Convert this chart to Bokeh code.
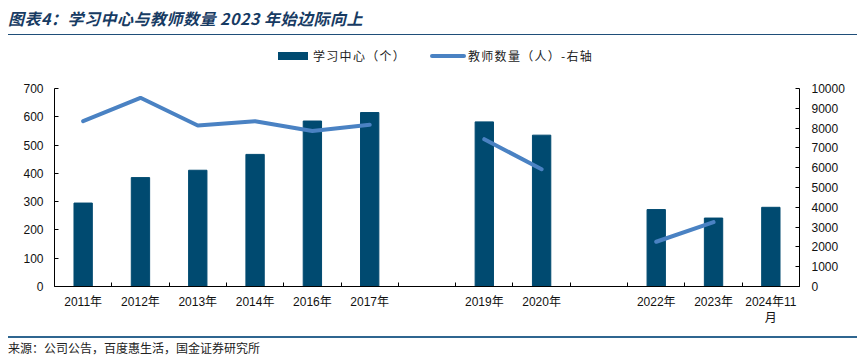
from bokeh.plotting import figure
from bokeh.models import (Range1d, LinearAxis, FixedTicker, SingleIntervalTicker,
                          Div, ColumnDataSource)
from bokeh.layouts import column
from bokeh.embed import file_html
from bokeh.resources import INLINE

nan = float("nan")

categories = ["2011年", "2012年", "2013年", "2014年", "2016年", "2017年", "",
              "2019年", "2020年", "", "2022年", "2023年", "2024年11\n月"]
learning_centers = [295, 385, 411, 467, 585, 615, nan, 582, 535, nan, 272, 242, 280]
teachers = [8350, 9530, 8130, 8350, 7850, 8170, nan, 7440, 5920, nan, 2260, 3250, nan]
left_ticks_max = 700
right_ticks_max = 10000

title_text = "图表4：学习中心与教师数量 2023 年始边际向上"
source_text = "来源：公司公告，百度惠生活，国金证券研究所"
bar_label = "学习中心（个）"
line_label = "教师数量（人）-右轴"

BAR_COLOR = "#004a70"
LINE_COLOR = "#4a82c3"
LABEL_FONT = "Liberation Sans, Noto Sans CJK SC"
CJK_FONT = "Noto Sans CJK SC"

xs = list(range(len(categories)))
src = ColumnDataSource(dict(x=xs, bars=learning_centers, teachers=teachers))

p = figure(width=849, height=248, x_range=Range1d(-0.5, len(categories) - 0.5),
           y_range=Range1d(0, left_ticks_max), output_backend="svg",
           toolbar_location=None, min_border_left=46, min_border_right=58,
           min_border_top=8, min_border_bottom=41, title=None)
p.outline_line_color = None
p.grid.visible = False
p.background_fill_color = None
p.border_fill_color = None
p.extra_y_ranges = {"right": Range1d(0, right_ticks_max)}

bar = p.vbar(x="x", top="bars", width=0.32, source=src, fill_color=BAR_COLOR,
             line_color=BAR_COLOR)
line = p.line(x="x", y="teachers", source=src, y_range_name="right",
              line_width=4, line_color=LINE_COLOR, line_cap="round")

# x axis
xa = p.xaxis[0]
xa.ticker = FixedTicker(ticks=xs, minor_ticks=[i - 0.5 for i in range(len(categories) + 1)])
xa.major_label_overrides = {i: lab for i, lab in enumerate(categories)}
xa.major_tick_in = 0
xa.major_tick_out = 0
xa.minor_tick_in = 4
xa.minor_tick_out = 0
xa.major_label_standoff = 8
xa.major_label_text_font = LABEL_FONT
xa.major_label_text_font_size = "12px"
xa.major_label_text_color = "#111111"
xa.axis_line_color = "black"
xa.minor_tick_line_color = "black"

# left axis
ya = p.yaxis[0]
ya.ticker = SingleIntervalTicker(interval=100, num_minor_ticks=0)
ya.major_tick_in = 4
ya.major_tick_out = 0
ya.minor_tick_line_color = None
ya.major_label_standoff = 11
ya.major_label_text_font = LABEL_FONT
ya.major_label_text_font_size = "12px"
ya.major_label_text_color = "#111111"
ya.axis_line_color = "black"

# right axis
ra = LinearAxis(y_range_name="right",
                ticker=SingleIntervalTicker(interval=1000, num_minor_ticks=0))
ra.major_tick_in = 4
ra.major_tick_out = 0
ra.minor_tick_line_color = None
ra.major_label_standoff = 12
ra.major_label_text_font = LABEL_FONT
ra.major_label_text_font_size = "12px"
ra.major_label_text_color = "#111111"
ra.axis_line_color = "black"
p.add_layout(ra, "right")

title_div = Div(
    text=('<div style="width:849px;height:27px;border-bottom:1px solid #1f4e79;'
          "font-family:'Noto Sans CJK SC';font-size:16px;font-weight:bold;"
          'font-style:italic;color:#173b63;line-height:20px;letter-spacing:0.5px;'
          'white-space:nowrap;">' + title_text + '</div>'),
    width=849, height=28, margin=0)

legend_div = Div(
    text=('<div style="position:relative;width:849px;height:44px;'
          "font-family:'Noto Sans CJK SC';font-size:12px;color:#222222;\">"
          '<div style="position:absolute;left:270px;top:16px;width:30px;height:8px;'
          'background:' + BAR_COLOR + ';"></div>'
          '<div style="position:absolute;left:305px;top:12px;line-height:16px;'
          'white-space:nowrap;letter-spacing:1.3px;">' + bar_label + '</div>'
          '<div style="position:absolute;left:422px;top:18px;width:36px;height:4px;'
          'border-radius:2px;background:' + LINE_COLOR + ';"></div>'
          '<div style="position:absolute;left:460px;top:12px;line-height:16px;'
          'white-space:nowrap;letter-spacing:1.3px;">' + line_label + '</div>'
          '</div>'),
    width=849, height=44, margin=0)

src_div = Div(
    text=('<div style="width:849px;margin-top:8px;border-top:2px solid #2f6690;'
          "padding-top:3px;font-family:'Noto Sans CJK SC';font-size:12px;"
          'line-height:14px;color:#222222;white-space:nowrap;">' + source_text + '</div>'),
    width=849, height=20, margin=0, styles={"overflow": "visible"})

layout = column(title_div, legend_div, p, src_div, spacing=0, margin=(8, 8, 0, 8))

open("out.html", "w").write(file_html(layout, INLINE))
